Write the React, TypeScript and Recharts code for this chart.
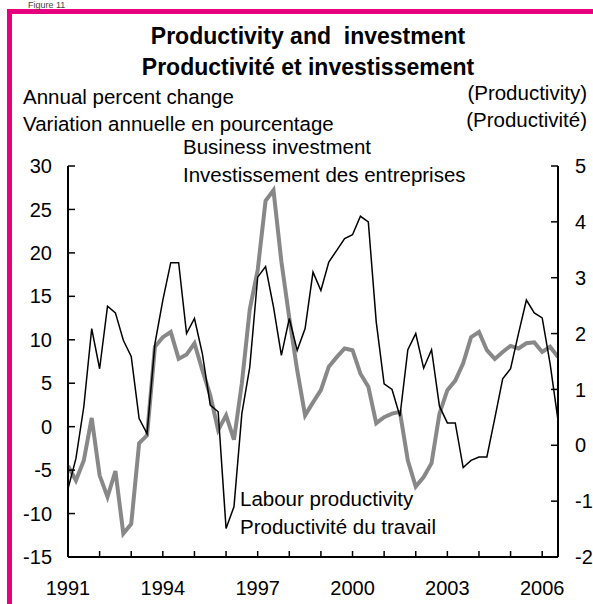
import React from 'react';
import { LineChart, Line, XAxis, YAxis } from 'recharts';

// Quarterly, 1991Q1 .. 2006Q3
const businessInvestment = [
  -4.5, -6.2, -3.9, 1.0, -5.6, -8.1, -5.1, -12.3, -11.2, -1.9, -1.0, 9.2, 10.3, 10.9, 7.8, 8.3,
  9.6, 6.5, 3.6, -0.4, 1.3, -1.5, 5.0, 13.5, 18.0, 26.0, 27.2, 19.0, 12.5, 6.5, 1.3, 2.8,
  4.2, 6.9, 8.0, 9.0, 8.8, 6.1, 4.6, 0.4, 1.1, 1.5, 1.7, -3.9, -6.9, -5.8, -4.2, 1.5,
  4.2, 5.3, 7.3, 10.3, 10.9, 8.8, 7.8, 8.6, 9.3, 9.0, 9.6, 9.7, 8.6, 9.2, 8.0,
];

const labourProductivity = [
  -0.78, -0.24, 0.69, 2.09, 1.37, 2.49, 2.37, 1.88, 1.59, 0.48, 0.21, 1.82, 2.6, 3.27, 3.27, 2.0,
  2.27, 1.64, 0.72, 0.6, -1.49, -1.1, 0.57, 1.4, 3.01, 3.2, 2.48, 1.61, 2.27, 1.7, 2.09, 3.1,
  2.77, 3.28, 3.49, 3.7, 3.77, 4.1, 4.0, 2.21, 1.1, 1.0, 0.52, 1.71, 2.0, 1.38, 1.71, 0.7,
  0.4, 0.4, -0.4, -0.27, -0.21, -0.21, 0.48, 1.19, 1.37, 2.0, 2.6, 2.37, 2.28, 1.46, 0.45,
];

const yearTicks = [0, 4, 8, 12, 16, 20, 24, 28, 32, 36, 40, 44, 48, 52, 56, 60];
const yearLabels = ['1991', '', '', '1994', '', '', '1997', '', '', '2000', '', '', '2003', '', '', '2006'];
const leftTicks = [-15, -10, -5, 0, 5, 10, 15, 20, 25, 30];
const rightTicks = [-2, -1, 0, 1, 2, 3, 4, 5];

const data = businessInvestment.map((v, i) => ({
  q: i,
  investment: v,
  productivity: labourProductivity[i],
}));

const FONT = '"Liberation Sans", Arial, Helvetica, sans-serif';
const PINK = '#E6007E';

export default function App() {
  const tickStyle = { fill: '#000', fontSize: 20, fontFamily: FONT };
  return (
    <div style={{ position: 'absolute', left: 0, top: 0, width: 593, height: 604, background: '#fff', overflow: 'hidden' }}>
      <LineChart
        width={593}
        height={604}
        data={data}
        margin={{ top: 166, right: 0, bottom: 17, left: 8 }}
        style={{ fontFamily: FONT }}
      >
        <XAxis
          dataKey="q"
          type="number"
          domain={[0, 62]}
          ticks={yearTicks}
          tickFormatter={(v: number) => yearLabels[Math.round(v / 4)] ?? ''}
          height={30}
          tickSize={-6}
          tickMargin={30}
          tick={tickStyle}
          axisLine={{ stroke: '#000', strokeWidth: 2 }}
          tickLine={{ stroke: '#000', strokeWidth: 1.5 }}
          interval={0}
          allowDataOverflow
        />
        <YAxis
          yAxisId="left"
          orientation="left"
          domain={[-15, 30]}
          ticks={leftTicks}
          width={60}
          tickSize={-7}
          tickMargin={23}
          tick={tickStyle}
          axisLine={{ stroke: '#000', strokeWidth: 2 }}
          tickLine={{ stroke: '#000', strokeWidth: 1.5 }}
          interval={0}
          allowDataOverflow
        />
        <YAxis
          yAxisId="right"
          orientation="right"
          domain={[-2, 5]}
          ticks={rightTicks}
          width={35}
          tickSize={-7}
          tickMargin={24}
          tick={{ ...tickStyle, textAnchor: 'start' }}
          axisLine={{ stroke: '#000', strokeWidth: 2 }}
          tickLine={{ stroke: '#000', strokeWidth: 1.5 }}
          interval={0}
          allowDataOverflow
        />
        <Line
          yAxisId="left"
          type="linear"
          dataKey="investment"
          stroke="#888888"
          strokeWidth={4}
          dot={false}
          isAnimationActive={false}
        />
        <Line
          yAxisId="right"
          type="linear"
          dataKey="productivity"
          stroke="#000000"
          strokeWidth={1.5}
          dot={false}
          isAnimationActive={false}
        />
      </LineChart>
      <svg
        width={593}
        height={604}
        style={{ position: 'absolute', left: 0, top: 0, pointerEvents: 'none', fontFamily: FONT }}
      >
        <rect x={7} y={9} width={586} height={5} fill={PINK} />
        <rect x={7} y={9} width={5} height={595} fill={PINK} />
        <text x={28} y={8} fontSize={9} fill="#444">Figure 11</text>
        <text x={308} y={44} fontSize={23} fontWeight="bold" textAnchor="middle" style={{ whiteSpace: 'pre' }}>
          Productivity and  investment
        </text>
        <text x={308} y={75} fontSize={23} fontWeight="bold" textAnchor="middle">
          Productivité et investissement
        </text>
        <text x={23} y={104} fontSize={20.5}>Annual percent change</text>
        <text x={23} y={131} fontSize={20.5}>Variation annuelle en pourcentage</text>
        <text x={587} y={100} fontSize={20.5} textAnchor="end">(Productivity)</text>
        <text x={587} y={127} fontSize={20.5} textAnchor="end">(Productivité)</text>
        <text x={183} y={154} fontSize={20.5}>Business investment</text>
        <text x={183} y={182} fontSize={20.5}>Investissement des entreprises</text>
        <text x={240} y={506} fontSize={20.5}>Labour productivity</text>
        <text x={240} y={534} fontSize={20.5}>Productivité du travail</text>
      </svg>
    </div>
  );
}
